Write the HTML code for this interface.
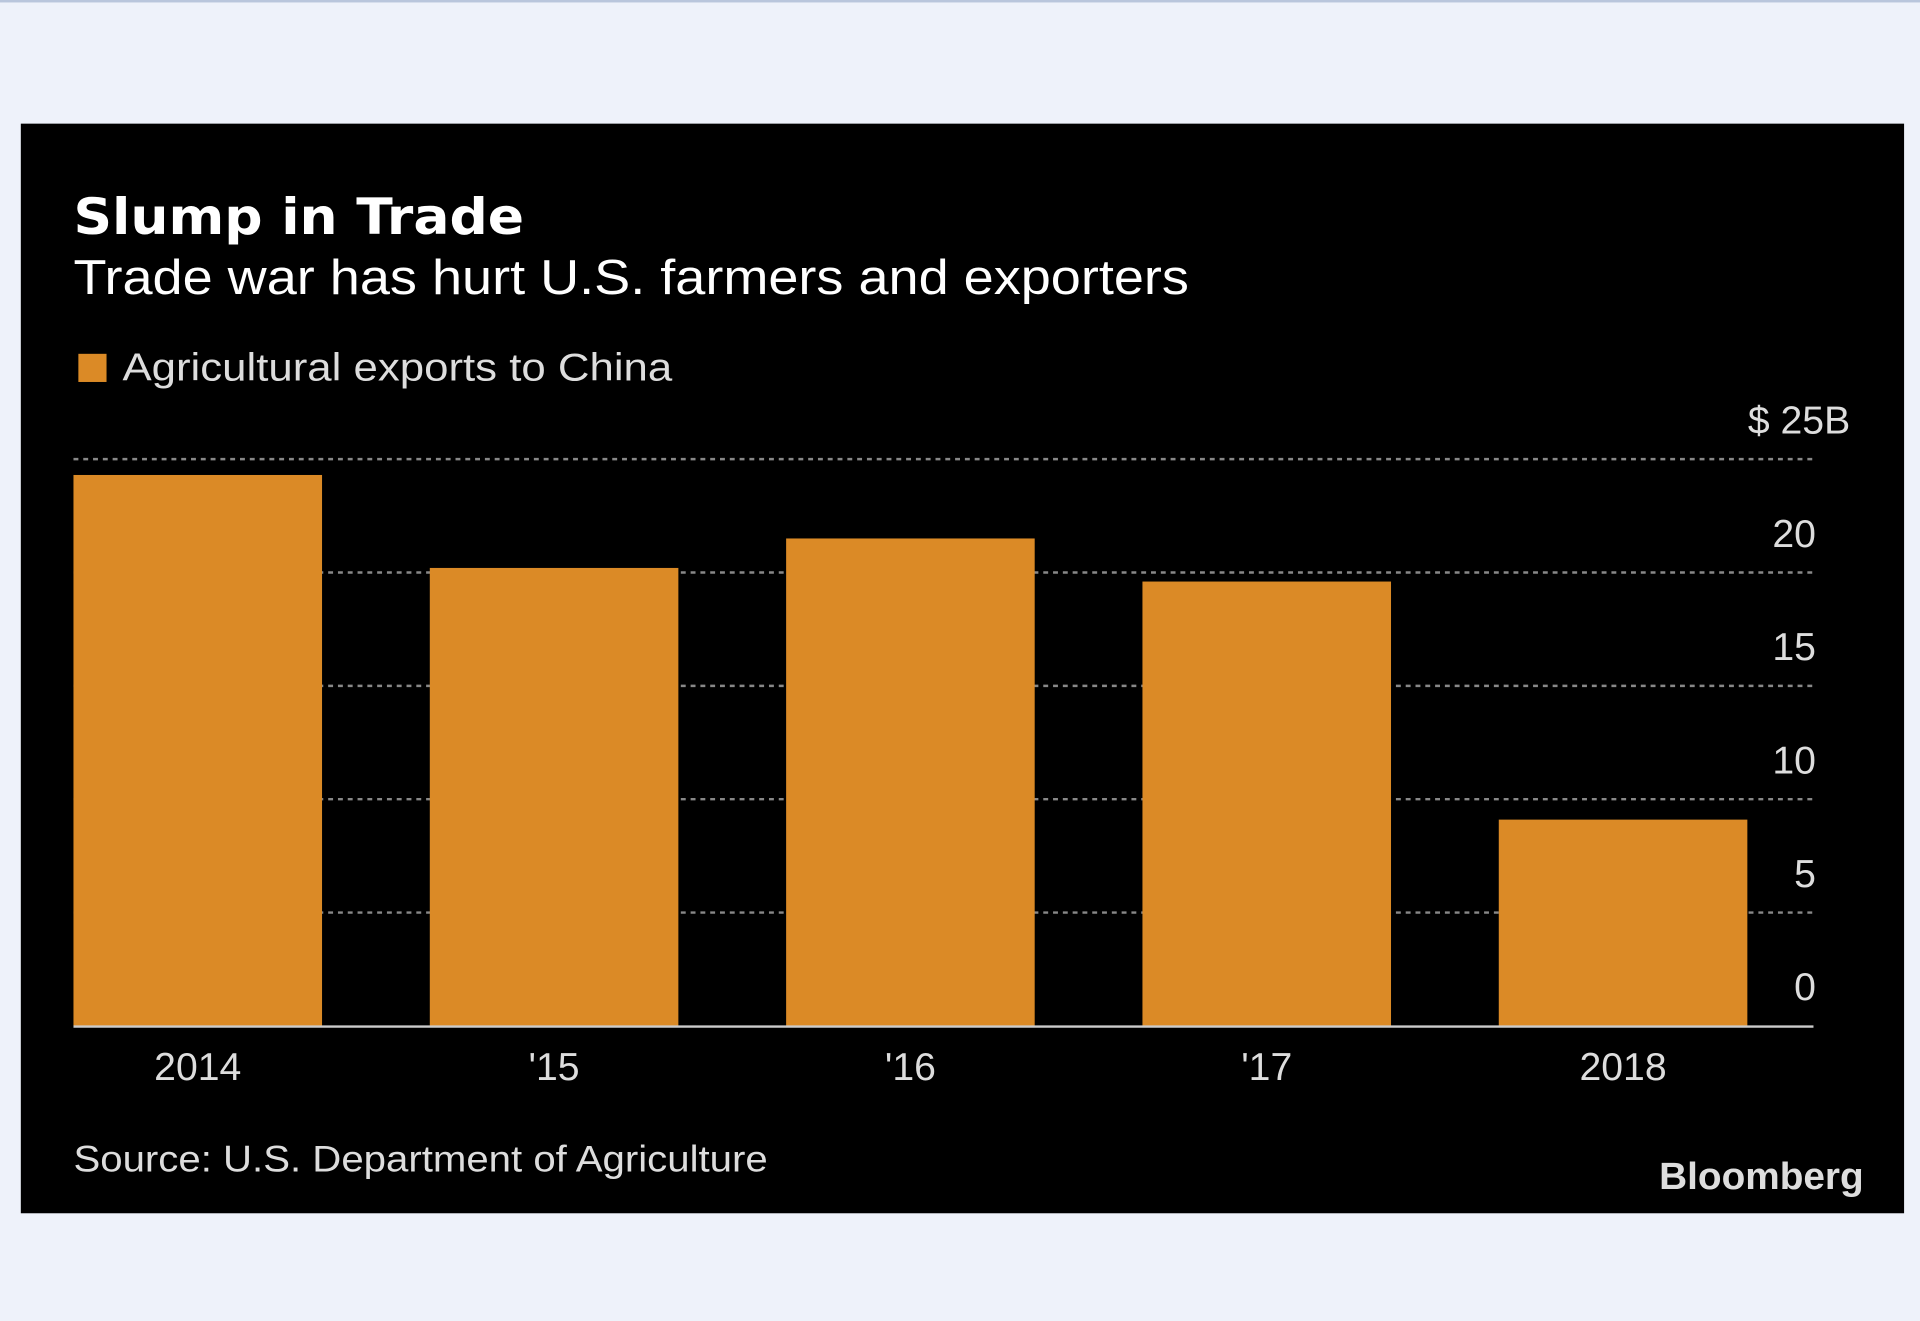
<!DOCTYPE html>
<html>
<head>
<meta charset="utf-8">
<style>
html,body{margin:0;padding:0;background:#eef2fa;}
svg{display:block;}
text{font-family:"Liberation Sans",sans-serif;}
</style>
</head>
<body>
<svg id="chart" width="1920" height="1321" viewBox="0 0 1568 1079" preserveAspectRatio="none" xmlns="http://www.w3.org/2000/svg">
  <rect x="0" y="0" width="1568" height="1079" fill="#eef2fa"/>
  <rect x="0" y="0" width="1568" height="2" fill="#b9c6dc"/>
  <rect x="17" y="101" width="1538" height="890" fill="#000"/>
  <text x="60" y="191" fill="#fff" font-size="41" font-weight="bold" style="font-family:'DejaVu Sans',sans-serif" textLength="368" lengthAdjust="spacingAndGlyphs">Slump in Trade</text>
  <text x="60" y="240" fill="#fff" font-size="40" textLength="911" lengthAdjust="spacingAndGlyphs">Trade war has hurt U.S. farmers and exporters</text>
  <rect x="64" y="289" width="23" height="23" fill="#db8a26"/>
  <text x="100" y="311" fill="#ddd" font-size="32" textLength="449" lengthAdjust="spacingAndGlyphs">Agricultural exports to China</text>
  <g id="grid"></g>
  <g id="bars"></g>
  <g id="xlabels"></g>
  <line x1="60" x2="1481" y1="838.5" y2="838.5" stroke="#ccc" stroke-width="2"/>
  <text x="60" y="957" fill="#ddd" font-size="30" textLength="567" lengthAdjust="spacingAndGlyphs">Source: U.S. Department of Agriculture</text>
  <text x="1522" y="971" fill="#ddd" font-size="31" font-weight="bold" text-anchor="end" textLength="167" lengthAdjust="spacingAndGlyphs">Bloomberg</text>
</svg>
<script>
const categories = ["2014", "'15", "'16", "'17", "2018"];
const values = [24.3, 20.2, 21.5, 19.6, 9.1];
const ticks = [0, 5, 10, 15, 20, 25];
const tickLabels = ["0", "5", "10", "15", "20", "$ 25B"];

const NS = "http://www.w3.org/2000/svg";
const plotLeft = 60, plotRight = 1481, y0 = 838, yTop = 375, vMax = 25;
function yScale(v){ return y0 - (y0 - yTop) * v / vMax; }
const step = 291, barW = 203;
function xScale(i){ return plotLeft + i * step; }

const grid = document.getElementById('grid');
ticks.forEach((t, i) => {
  const y = yScale(t);
  if (t !== 0) {
    const ln = document.createElementNS(NS, 'line');
    ln.setAttribute('x1', plotLeft); ln.setAttribute('x2', plotRight);
    ln.setAttribute('y1', y); ln.setAttribute('y2', y);
    ln.setAttribute('stroke', '#888'); ln.setAttribute('stroke-width', '2');
    ln.setAttribute('stroke-dasharray', '4,4');
    
    
    grid.appendChild(ln);
  }
  const tx = document.createElementNS(NS, 'text');
  const isTop = i === ticks.length - 1;
  tx.setAttribute('x', isTop ? 1511 : 1483);
  tx.setAttribute('y', y - 21);
  tx.setAttribute('text-anchor', 'end');
  tx.setAttribute('fill', '#ddd');
  tx.setAttribute('font-size', '32');
  tx.textContent = tickLabels[i];
  
  
  grid.appendChild(tx);
});

const bars = document.getElementById('bars');
const xl = document.getElementById('xlabels');
values.forEach((v, i) => {
  const r = document.createElementNS(NS, 'rect');
  r.setAttribute('x', xScale(i));
  r.setAttribute('y', yScale(v));
  r.setAttribute('width', barW);
  r.setAttribute('height', y0 - yScale(v));
  r.setAttribute('fill', '#db8a26');
  
  
  bars.appendChild(r);
  const t = document.createElementNS(NS, 'text');
  t.setAttribute('x', xScale(i) + barW / 2);
  t.setAttribute('y', 882);
  t.setAttribute('text-anchor', 'middle');
  t.setAttribute('fill', '#ddd');
  t.setAttribute('font-size', '32');
  t.textContent = categories[i];
  
  
  xl.appendChild(t);
});
</script>
</body>
</html>
